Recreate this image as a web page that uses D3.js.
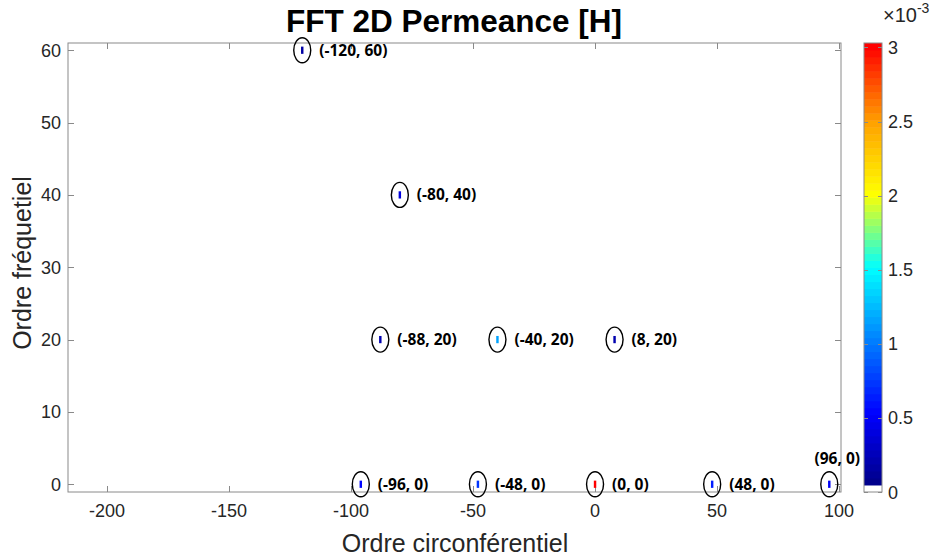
<!DOCTYPE html>
<html><head><meta charset="utf-8">
<script src="https://cdn.jsdelivr.net/npm/d3@7"></script>
<style>body{margin:0;background:#fff;} svg{display:block;}</style>
</head><body>
<svg id="c" width="936" height="557"></svg>
<script>
// ---- data ----
const orders = [-120, -80, -88, -40, 8, -96, -48, 0, 48, 96];
const freqs  = [60, 40, 20, 20, 20, 0, 0, 0, 0, 0];
const amps   = [0.18e-3, 0.42e-3, 0.22e-3, 1.15e-3, 0.22e-3, 0.55e-3, 0.72e-3, 3.03e-3, 0.62e-3, 0.52e-3];
const labels = ["(-120, 60)", "(-80, 40)", "(-88, 20)", "(-40, 20)", "(8, 20)", "(-96, 0)", "(-48, 0)", "(0, 0)", "(48, 0)", "(96, 0)"];
const xTicks = [-200, -150, -100, -50, 0, 50, 100];
const yTicks = [0, 10, 20, 30, 40, 50, 60];
const cTicks = [0, 0.5e-3, 1e-3, 1.5e-3, 2e-3, 2.5e-3, 3e-3];
const cTickLabels = ["0", "0.5", "1", "1.5", "2", "2.5", "3"];
const title = "FFT 2D Permeance [H]";
const xLabel = "Ordre circonférentiel";
const yLabel = "Ordre fréquetiel";

// ---- layout ----
const svg = d3.select("#c");
const L = 68, R = 841, T = 43, B = 492;
const x = d3.scaleLinear().domain([-216, 100.8]).range([L, R]);
const y = d3.scaleLinear().domain([-1.07, 61]).range([B, T]);
const cMax = 3.03e-3;
const cb = {x0: 864, x1: 882};
const cy = d3.scaleLinear().domain([0, cMax]).range([B, T]);

// colormap (jet-like, 64 levels, first level white)
const stops = d3.scaleLinear()
  .domain([0, 0.17, 0.5, 0.667, 0.83, 1])
  .range(["#000080", "#0000ff", "#00ffff", "#ffff00", "#ffa000", "#ff0000"])
  .interpolate(d3.interpolateRgb);
const N = 64;
function cmap(v) {
  let i = Math.floor(v / cMax * N);
  i = Math.max(0, Math.min(N - 1, i));
  if (i === 0) return "#ffffff";
  return stops((i) / (N - 1));
}

const axisCol = "#8a8a8a", txtCol = "#262626";
const g = svg.append("g");

// plot background/frame
g.append("rect").attr("x", L).attr("y", T).attr("width", R - L).attr("height", B - T)
  .attr("fill", "#fff").attr("stroke", axisCol).attr("stroke-width", 1);

// ticks (inside, mirrored)
const tl = 6;
xTicks.forEach(t => {
  const px = Math.round(x(t)) + 0.5;
  g.append("line").attr("x1", px).attr("x2", px).attr("y1", B).attr("y2", B - tl).attr("stroke", axisCol);
  g.append("line").attr("x1", px).attr("x2", px).attr("y1", T).attr("y2", T + tl).attr("stroke", axisCol);
  g.append("text").attr("x", x(t)).attr("y", B + 25).attr("text-anchor", "middle")
    .attr("font-family", "Liberation Sans, Arial, sans-serif").attr("font-size", 18).attr("fill", txtCol).text(t);
});
yTicks.forEach(t => {
  const py = Math.round(y(t)) + 0.5;
  g.append("line").attr("x1", L).attr("x2", L + tl).attr("y1", py).attr("y2", py).attr("stroke", axisCol);
  g.append("line").attr("x1", R).attr("x2", R - tl).attr("y1", py).attr("y2", py).attr("stroke", axisCol);
  g.append("text").attr("x", L - 7).attr("y", y(t) + 6.5).attr("text-anchor", "end")
    .attr("font-family", "Liberation Sans, Arial, sans-serif").attr("font-size", 18).attr("fill", txtCol).text(t);
});

// data cells (1x1 in data units)
const pts = orders.map((o, i) => ({o, f: freqs[i], a: amps[i], lab: labels[i]}));
g.selectAll("rect.cell").data(pts).enter().append("rect").attr("class", "cell")
  .attr("x", d => x(d.o - 0.5)).attr("width", d => x(d.o + 0.5) - x(d.o - 0.5))
  .attr("y", d => y(d.f + 0.5)).attr("height", d => y(d.f - 0.5) - y(d.f + 0.5))
  .attr("fill", d => cmap(d.a));

// ellipses
g.selectAll("ellipse").data(pts).enter().append("ellipse")
  .attr("cx", d => x(d.o)).attr("cy", d => y(d.f)).attr("rx", 8.5).attr("ry", 12.5)
  .attr("fill", "none").attr("stroke", "#000").attr("stroke-width", 1.4);

// labels
g.selectAll("text.lab").data(pts).enter().append("text").attr("class", "lab")
  .attr("font-family", "Open Sans, sans-serif").attr("font-weight", "bold").attr("font-size", 15.5)
  .attr("fill", "#000")
  .each(function(d) {
    const sel = d3.select(this).text(d.lab);
    const w = this.getComputedTextLength();
    if (x(d.o) + 18 + w > R) {
      sel.attr("x", x(d.o) + 8).attr("y", y(d.f) - 20).attr("text-anchor", "middle");
    } else {
      sel.attr("x", x(d.o) + 17).attr("y", y(d.f) + 5.5);
    }
  });

// title & axis labels
svg.append("text").attr("x", 454).attr("y", 32).attr("text-anchor", "middle")
  .attr("font-family", "Liberation Sans, Arial, sans-serif").attr("font-weight", "bold")
  .attr("font-size", 31.5).attr("fill", "#000").text(title);
svg.append("text").attr("x", 455).attr("y", 552).attr("text-anchor", "middle")
  .attr("font-family", "Liberation Sans, Arial, sans-serif").attr("font-size", 25).attr("fill", txtCol).text(xLabel);
svg.append("text").attr("transform", `translate(31,263) rotate(-90)`).attr("text-anchor", "middle")
  .attr("font-family", "Liberation Sans, Arial, sans-serif").attr("font-size", 25).attr("fill", txtCol).text(yLabel);

// colorbar
const cbg = svg.append("g");
const bandVals = d3.range(N).map(i => i * cMax / N);
cbg.selectAll("rect.band").data(bandVals).enter().append("rect").attr("class", "band")
  .attr("x", cb.x0).attr("width", cb.x1 - cb.x0)
  .attr("y", d => cy(d + cMax / N)).attr("height", d => cy(d) - cy(d + cMax / N) + 0.5)
  .attr("fill", d => cmap(d + cMax / N / 2));
cbg.append("rect").attr("x", cb.x0).attr("y", T).attr("width", cb.x1 - cb.x0).attr("height", B - T)
  .attr("fill", "none").attr("stroke", axisCol);
cTicks.forEach((t, i) => {
  const py = Math.round(cy(t)) + 0.5;
  cbg.append("line").attr("x1", cb.x1).attr("x2", cb.x1 - 4).attr("y1", py).attr("y2", py).attr("stroke", axisCol);
  cbg.append("line").attr("x1", cb.x0).attr("x2", cb.x0 + 4).attr("y1", py).attr("y2", py).attr("stroke", axisCol);
  cbg.append("text").attr("x", cb.x1 + 6).attr("y", cy(t) + 6.5)
    .attr("font-family", "Liberation Sans, Arial, sans-serif").attr("font-size", 18).attr("fill", txtCol).text(cTickLabels[i]);
});
const ex = cbg.append("text").attr("x", 883).attr("y", 22)
  .attr("font-family", "Liberation Sans, Arial, sans-serif").attr("font-size", 20).attr("fill", txtCol);
ex.append("tspan").text("×10");
ex.append("tspan").attr("font-size", 14).attr("dy", -9).text("-3");
</script>
</body></html>
